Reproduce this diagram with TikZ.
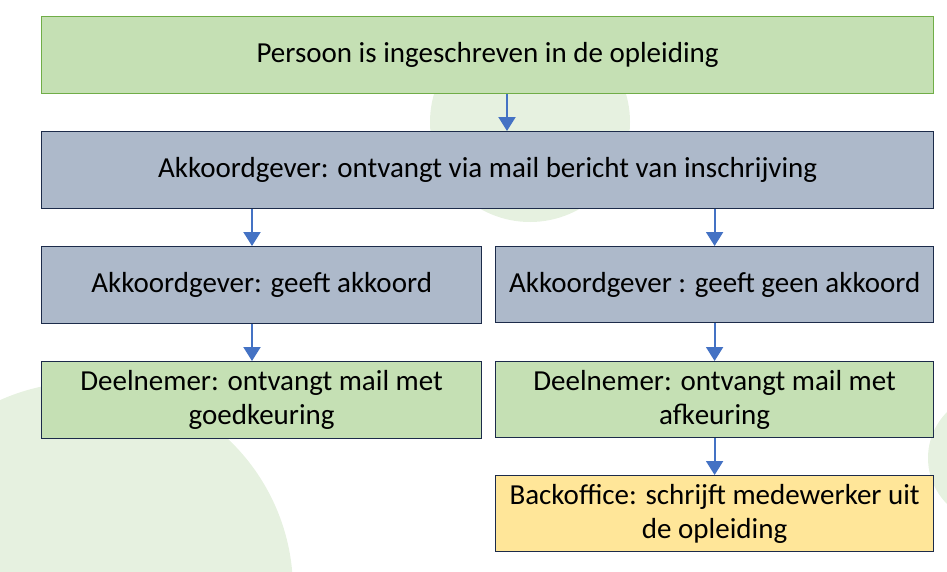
\documentclass[tikz,border=0pt]{standalone}
\usepackage{fontspec}
\setmainfont{Carlito}
\usetikzlibrary{arrows.meta}
\definecolor{bgc}{HTML}{E6F1E0}
\definecolor{grfill}{HTML}{C5E0B4}
\definecolor{grline}{HTML}{70AD47}
\definecolor{bluefill}{HTML}{ADB9CA}
\definecolor{yelfill}{HTML}{FFE699}
\definecolor{navy}{HTML}{1C2B4A}
\definecolor{arrowc}{HTML}{4472C4}
\tikzset{
  box/.style={draw=navy, line width=1.2pt, inner sep=0pt, anchor=north west,
    align=center, font=\fontsize{29}{34}\selectfont, text=black},
  wide/.style={box, minimum width=892pt, minimum height=77pt},
  half/.style={box, minimum width=440pt, minimum height=77pt},
  halfr/.style={box, minimum width=438pt, minimum height=76pt},
  conn/.style={draw=arrowc, line width=2pt, -{Triangle[width=17pt,length=14pt]}}
}
\begin{document}
\begin{tikzpicture}[x=1pt,y=-1pt]
\useasboundingbox (0,0) rectangle (947,571);
\begin{scope}
\clip (0,0) rectangle (947,571);
\fill[bgc] (530,122) circle (100);
\fill[bgc] (85,590) circle (208);
\fill[bgc] (993,458) circle (65);
\end{scope}
\node[wide, fill=grfill, draw=grline] (n1) at (41,16) {Persoon is ingeschreven in de opleiding};
\node[wide, fill=bluefill] (n2) at (41,131) {Akkoordgever: ontvangt via mail bericht van inschrijving};
\node[half, fill=bluefill] (n3) at (41,246) {Akkoordgever: geeft akkoord};
\node[halfr, fill=bluefill] (n4) at (495,246) {Akkoordgever : geeft geen akkoord};
\node[half, fill=grfill] (n5) at (41,361) {Deelnemer: ontvangt mail met\\goedkeuring};
\node[halfr, fill=grfill] (n6) at (495,361) {Deelnemer: ontvangt mail met\\afkeuring};
\node[halfr, fill=yelfill] (n7) at (495,475) {Backoffice: schrijft medewerker uit\\de opleiding};
\coordinate (ax1) at (507,0);
\coordinate (ax2) at (252,0);
\draw[conn] (n1.south -| ax1) -- (n2.north -| ax1);
\draw[conn] (n2.south -| ax2) -- (n3.north -| ax2);
\draw[conn] (n2.south -| n4.north) -- (n4.north);
\draw[conn] (n3.south -| ax2) -- (n5.north -| ax2);
\draw[conn] (n4.south) -- (n6.north);
\draw[conn] (n6.south) -- (n7.north);
\end{tikzpicture}
\end{document}
